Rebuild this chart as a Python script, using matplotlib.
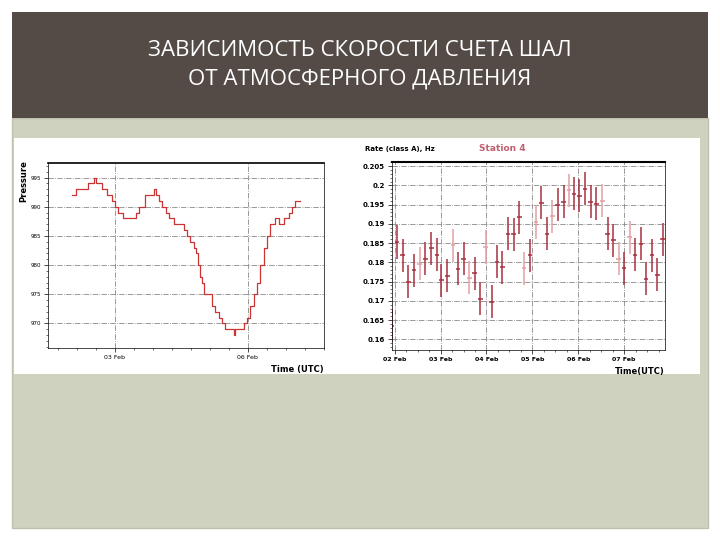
import matplotlib
matplotlib.use("Agg")
import matplotlib.pyplot as plt
from matplotlib.patches import Rectangle
from matplotlib.ticker import AutoMinorLocator

# ---- data ----
title_text = "ЗАВИСИМОСТЬ СКОРОСТИ СЧЕТА ШАЛ\nОТ АТМОСФЕРНОГО ДАВЛЕНИЯ"
# left: pressure step curve (days relative to 03 Feb)
p_days = [-0.645, -0.575, -0.395, -0.31, -0.285, -0.195, -0.12, -0.035, 0.0, 0.055, 0.125,
          0.19, 0.315, 0.365, 0.455, 0.59, 0.625, 0.665, 0.715, 0.765, 0.815, 0.89, 1.04,
          1.09, 1.14, 1.19, 1.23, 1.255, 1.29, 1.315, 1.35, 1.415, 1.465, 1.515, 1.565,
          1.615, 1.665, 1.765, 1.79, 1.815, 1.89, 1.94, 1.99, 2.04, 2.09, 2.14, 2.19, 2.24,
          2.29, 2.34, 2.415, 2.465, 2.54, 2.615, 2.665, 2.715, 2.79]
pressure = [992, 993, 994, 995, 994, 993, 992, 991, 990, 989, 988, 988, 989, 990, 992,
            993, 992, 991, 990, 989, 988, 987, 986, 985, 984, 983, 982, 980, 978, 977, 975,
            975, 973, 972, 971, 970, 969, 969, 968, 969, 969, 970, 971, 973, 975, 977, 980,
            983, 985, 987, 988, 987, 988, 989, 990, 991, 991]
p_tick_pos = [0, 2]
p_tick_lab = ["03 Feb", "06 Feb"]
p_yticks = [970, 975, 980, 985, 990, 995]

# right: rate (days relative to 02 Feb)
r_days = [-0.06, 0.05, 0.175, 0.3, 0.425, 0.545, 0.67, 0.8, 0.92, 1.015, 1.145, 1.27,
          1.38, 1.5, 1.625, 1.74, 1.865, 1.985, 2.11, 2.23, 2.345, 2.47, 2.59, 2.715,
          2.82, 2.95, 3.075, 3.195, 3.315, 3.435, 3.55, 3.68, 3.795, 3.91, 4.025, 4.15,
          4.27, 4.395, 4.525, 4.64, 4.765, 4.88, 4.995, 5.12, 5.24, 5.365, 5.48, 5.605, 5.725, 5.84]
rate = [0.1635, 0.1853, 0.1818, 0.175, 0.178, 0.1797, 0.181, 0.1837, 0.182, 0.1753, 0.1765,
        0.1845, 0.1783, 0.181, 0.176, 0.1772, 0.1705, 0.184, 0.1698, 0.1802, 0.1787, 0.1875,
        0.1873, 0.1917, 0.1785, 0.1818, 0.1905, 0.1955, 0.1875, 0.192, 0.195, 0.1958, 0.1988,
        0.1978, 0.1973, 0.1992, 0.1958, 0.1952, 0.196, 0.1875, 0.1858, 0.181, 0.1785, 0.1865,
        0.182, 0.1848, 0.1757, 0.1818, 0.1768, 0.186]
light = [0, 0, 0, 0, 0, 1, 0, 0, 0, 0, 0, 1, 0, 0, 1, 0, 0, 1, 0, 0, 0, 0, 0, 0, 1, 0, 1,
         0, 0, 1, 0, 0, 1, 0, 0, 0, 0, 0, 1, 0, 0, 1, 0, 1, 0, 0, 0, 0, 0, 0]
r_tick_lab = ["02 Feb", "03 Feb", "04 Feb", "05 Feb", "06 Feb", "07 Feb"]
r_yticks = [0.16, 0.165, 0.17, 0.175, 0.18, 0.185, 0.19, 0.195, 0.2, 0.205]
r_ylabs = ["0.16", "0.165", "0.17", "0.175", "0.18", "0.185", "0.19", "0.195", "0.2", "0.205"]

W, H = 720, 540
fig = plt.figure(figsize=(7.2, 5.4), dpi=100)
fig.patch.set_facecolor("white")

def rect(x0, y0, x1, y1, **kw):
    fig.add_artist(Rectangle((x0 / W, 1 - y1 / H), (x1 - x0) / W, (y1 - y0) / H,
                             transform=fig.transFigure, zorder=-5, **kw))

rect(12, 118, 708, 528, facecolor="#d0d2c0", edgecolor="#bfc1ae", lw=1)
rect(12, 12, 708, 118, facecolor="#544b47", edgecolor="none")
rect(14, 138, 700, 374, facecolor="white", edgecolor="none")
fig.text(0.5, 1 - 65 / H, title_text, ha="center", va="center", color="white",
         fontsize=16, family="Open Sans", linespacing=1.45)

def ax_at(x0, y0, x1, y1):
    return fig.add_axes([x0 / W, 1 - y1 / H, (x1 - x0) / W, (y1 - y0) / H])

grid_kw = dict(color="#888888", linestyle="-.", linewidth=0.6)

# left chart
ax1 = ax_at(48, 163, 324, 348)
ax1.plot(p_days, pressure, drawstyle="steps-post", color="#cc3333", lw=0.9)
ax1.set_xlim(-1.0, 3.145)
ax1.set_ylim(965.8, 997.5)
ax1.set_yticks(p_yticks)
ax1.set_yticklabels([str(v) for v in p_yticks], fontsize=4)
ax1.set_xticks(p_tick_pos)
ax1.set_xticklabels(p_tick_lab, fontsize=4.5)
ax1.grid(True, **grid_kw)
ax1.set_ylabel("Pressure", fontsize=6, fontweight="bold")
ax1.yaxis.set_label_coords(-0.07, 0.9)
ax1.text(1.0, -0.13, "Time (UTC)", transform=ax1.transAxes, ha="right", fontsize=6, fontweight="bold")
ax1.xaxis.set_minor_locator(AutoMinorLocator(7))
ax1.yaxis.set_minor_locator(AutoMinorLocator(5))
ax1.tick_params(length=3, width=0.5, pad=2)
ax1.tick_params(which="minor", length=1.5, width=0.4)
for s in ax1.spines.values():
    s.set_linewidth(0.5)
ax1.spines["top"].set_linewidth(1.2)

# right chart
ax2 = ax_at(392, 162, 665, 350)
for x, y, l in zip(r_days, rate, light):
    c = "#e0a0a0" if l else "#a83040"
    ax2.errorbar(x, y, yerr=0.0043, xerr=0.05, fmt="none", ecolor=c, elinewidth=1.1)
ax2.set_xlim(-0.058, 5.89)
ax2.set_ylim(0.15722, 0.2061)
ax2.set_yticks(r_yticks)
ax2.set_yticklabels(r_ylabs, fontsize=5, fontweight="bold")
ax2.set_xticks(range(6))
ax2.set_xticklabels(r_tick_lab, fontsize=4.5, fontweight="bold")
ax2.grid(True, **grid_kw)
ax2.text(-0.1, 1.06, "Rate (class A), Hz", transform=ax2.transAxes, fontsize=5, fontweight="bold")
ax2.text(0.32, 1.06, "Station 4", transform=ax2.transAxes, fontsize=6.5, fontweight="bold", color="#c06070")
ax2.text(1.0, -0.13, "Time(UTC)", transform=ax2.transAxes, ha="right", fontsize=6, fontweight="bold")
ax2.xaxis.set_minor_locator(AutoMinorLocator(4))
ax2.yaxis.set_minor_locator(AutoMinorLocator(5))
ax2.tick_params(length=3, width=0.5, pad=2)
ax2.tick_params(which="minor", length=1.5, width=0.4)
for s in ax2.spines.values():
    s.set_linewidth(0.5)
ax2.spines["top"].set_linewidth(1.5)

fig.savefig("out.png", dpi=100)
